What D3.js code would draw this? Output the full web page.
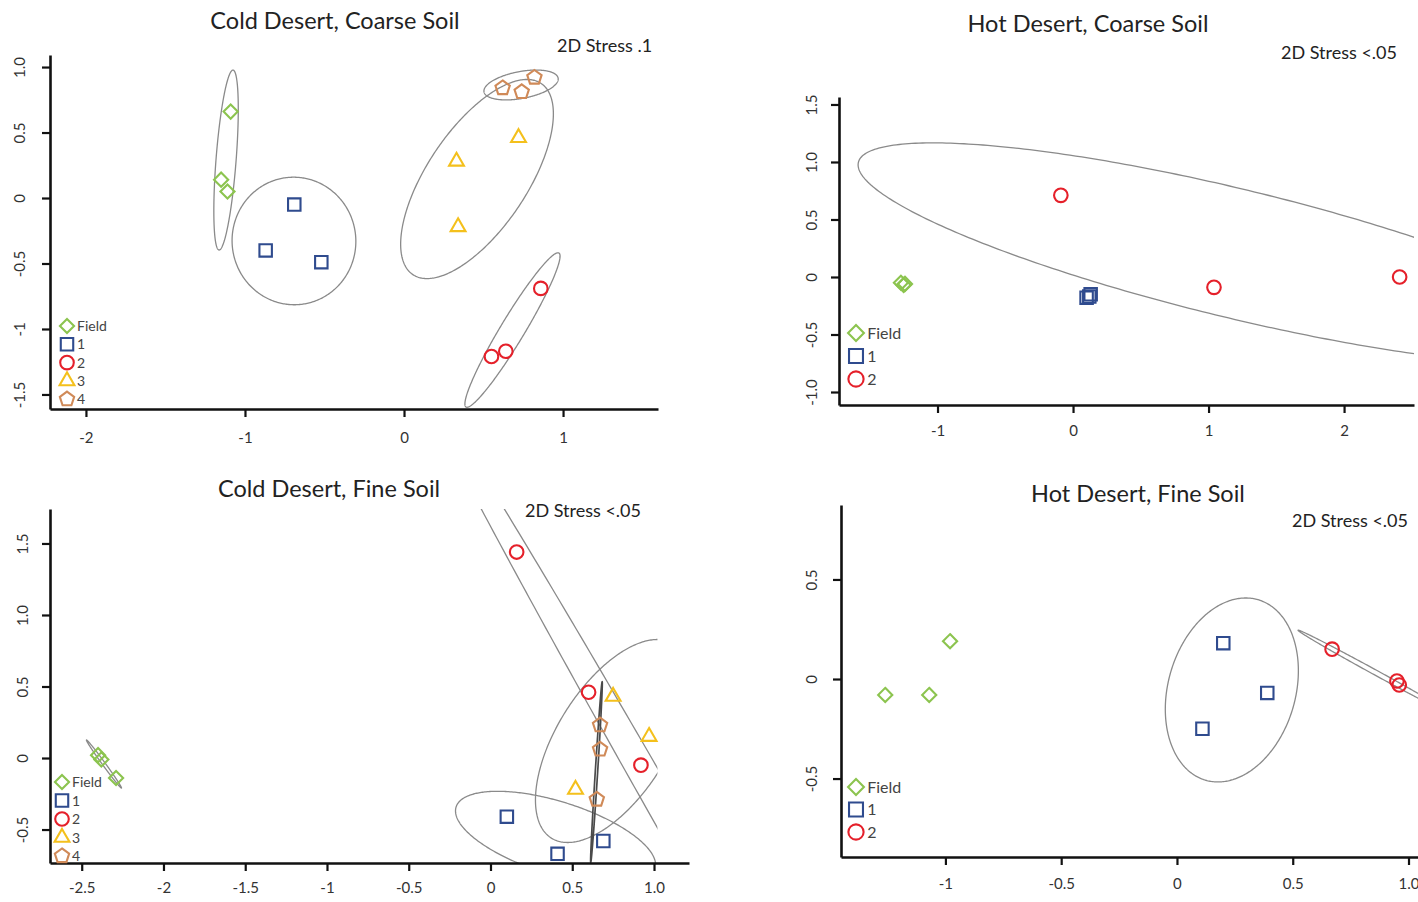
<!DOCTYPE html>
<html>
<head>
<meta charset="utf-8">
<script src="https://cdn.jsdelivr.net/npm/d3@7"></script>
<style>
  body { margin: 0; background: #fff; }
  svg { display: block; }
</style>
</head>
<body>
<svg id="chart" width="1418" height="902"></svg>
<script>
// ---------- groups ----------
const groupNames  = ["Field", "1", "2", "3", "4"];
const groupShapes = ["diamond", "square", "circle", "triangle", "pentagon"];
const groupColors = ["#8cc44f", "#2f4b8e", "#e5202a", "#f4c01c", "#d08a58"];

// ---------- NMDS coordinates (x, y) per group ----------
// Cold desert, coarse soil
const coldCoarseField = [[-1.09, 0.66], [-1.15, 0.14], [-1.11, 0.05]];
const coldCoarse1     = [[-0.69, -0.05], [-0.87, -0.40], [-0.52, -0.49]];
const coldCoarse2     = [[0.86, -0.69], [0.64, -1.17], [0.55, -1.21]];
const coldCoarse3     = [[0.33, 0.28], [0.72, 0.46], [0.34, -0.22]];
const coldCoarse4     = [[0.62, 0.84], [0.74, 0.81], [0.82, 0.92]];
// Hot desert, coarse soil
const hotCoarseField  = [[-1.27, -0.05], [-1.25, -0.07], [-1.24, -0.06]];
const hotCoarse1      = [[0.10, -0.18], [0.13, -0.15], [0.12, -0.17]];
const hotCoarse2      = [[-0.09, 0.71], [1.04, -0.09], [2.41, 0.00]];
// Cold desert, fine soil
const coldFineField   = [[-2.40, 0.02], [-2.38, -0.01], [-2.29, -0.14]];
const coldFine1       = [[0.10, -0.41], [0.41, -0.67], [0.69, -0.58]];
const coldFine2       = [[0.16, 1.44], [0.60, 0.46], [0.92, -0.05]];
const coldFine3       = [[0.75, 0.43], [0.97, 0.15], [0.52, -0.22]];
const coldFine4       = [[0.67, 0.23], [0.67, 0.06], [0.65, -0.29]];
// Hot desert, fine soil
const hotFineField    = [[-1.26, -0.08], [-1.07, -0.08], [-0.98, 0.19]];
const hotFine1        = [[0.20, 0.18], [0.39, -0.07], [0.11, -0.25]];
const hotFine2        = [[0.67, 0.15], [0.95, -0.01], [0.96, -0.03]];

// ---------- group ellipses: [cx, cy, ax, ay, bx, by] (centre + two conjugate half-axes) ----------
const coldCoarseEllipses = [
  [-1.119, 0.290, 0.044, 0.687, 0.063, -0.006],
  [-0.692, -0.328, -0.063, 0.481, 0.384, 0.076],
  [0.682, -1.008, 0.292, 0.588, 0.065, -0.047],
  [0.459, 0.145, 0.403, 0.730, 0.261, -0.212],
  [0.736, 0.863, 0.233, 0.053, 0.016, -0.101]
];
const hotCoarseEllipses = [
  [1.196, 0.205, -2.782, 0.770, 0.0, -0.575]
];
const coldFineEllipses = [
  [-2.364, -0.042, 0.107, -0.168, 0.0074, 0.0062],
  [0.398, -0.559, -0.612, 0.189, 0.0, -0.266],
  [1.284, -0.804, -1.707, 3.418, 0.0796, 0.052],
  [0.746, 0.119, -0.471, -0.413, 0.0, 0.577],
  [0.648, -0.098, 0.0349, 0.631, 0.0073, -0.0005]
];
const hotFineEllipses = [
  [0.237, -0.055, 0.060, 0.462, 0.281, 0.0],
  [0.855, 0.034, -0.332, 0.211, 0.0052, 0.011]
];

// ---------- axis ticks ----------
const coldCoarseXTicks = [-2, -1, 0, 1];
const coldCoarseXLabels = ["-2", "-1", "0", "1"];
const coldCoarseYTicks = [1, 0.5, 0, -0.5, -1, -1.5];
const coldCoarseYLabels = ["1.0", "0.5", "0", "-0.5", "-1", "-1.5"];

const hotCoarseXTicks = [-1, 0, 1, 2];
const hotCoarseXLabels = ["-1", "0", "1", "2"];
const hotCoarseYTicks = [1.5, 1, 0.5, 0, -0.5, -1];
const hotCoarseYLabels = ["1.5", "1.0", "0.5", "0", "-0.5", "-1.0"];

const coldFineXTicks = [-2.5, -2, -1.5, -1, -0.5, 0, 0.5, 1];
const coldFineXLabels = ["-2.5", "-2", "-1.5", "-1", "-0.5", "0", "0.5", "1.0"];
const coldFineYTicks = [1.5, 1, 0.5, 0, -0.5];
const coldFineYLabels = ["1.5", "1.0", "0.5", "0", "-0.5"];

const hotFineXTicks = [-1, -0.5, 0, 0.5, 1];
const hotFineXLabels = ["-1", "-0.5", "0", "0.5", "1.0"];
const hotFineYTicks = [0.5, 0, -0.5];
const hotFineYLabels = ["0.5", "0", "-0.5"];

// ---------- panel layout ----------
const panels = [
  {
    title: "Cold Desert, Coarse Soil", stress: "2D Stress .1",
    box: { left: 50, right: 658, top: 55, bottom: 409 },
    xDomain: [-2.226, 1.597], yDomain: [-1.611, 1.092],
    xTicks: coldCoarseXTicks, xLabels: coldCoarseXLabels,
    yTicks: coldCoarseYTicks, yLabels: coldCoarseYLabels,
    series: [coldCoarseField, coldCoarse1, coldCoarse2, coldCoarse3, coldCoarse4],
    ellipses: coldCoarseEllipses, ellipseStroke: ["#8a8a8a", "#8a8a8a", "#8a8a8a", "#8a8a8a", "#8a8a8a"],
    clipXMax: null,
    titlePos: [335, 29], stressPos: [557, 52],
    legend: { x: 67, y: 326, step: 18.3, font: 14, scale: 1 },
    yLabelOffset: 30, xLabelOffset: 34
  },
  {
    title: "Hot Desert, Coarse Soil", stress: "2D Stress <.05",
    box: { left: 839, right: 1414, top: 97, bottom: 405 },
    xDomain: [-1.727, 2.516], yDomain: [-1.113, 1.565],
    xTicks: hotCoarseXTicks, xLabels: hotCoarseXLabels,
    yTicks: hotCoarseYTicks, yLabels: hotCoarseYLabels,
    series: [hotCoarseField, hotCoarse1, hotCoarse2],
    ellipses: hotCoarseEllipses, ellipseStroke: ["#8a8a8a"],
    clipXMax: null,
    titlePos: [1088, 32], stressPos: [1281, 59],
    legend: { x: 856, y: 333, step: 23, font: 16, scale: 1.12 },
    yLabelOffset: 27, xLabelOffset: 31
  },
  {
    title: "Cold Desert, Fine Soil", stress: "2D Stress <.05",
    box: { left: 50, right: 689, top: 509, bottom: 863 },
    xDomain: [-2.694, 1.214], yDomain: [-0.734, 1.741],
    xTicks: coldFineXTicks, xLabels: coldFineXLabels,
    yTicks: coldFineYTicks, yLabels: coldFineYLabels,
    series: [coldFineField, coldFine1, coldFine2, coldFine3, coldFine4],
    ellipses: coldFineEllipses, ellipseStroke: ["#8a8a8a", "#8a8a8a", "#8a8a8a", "#8a8a8a", "#4a4a4a"],
    clipXMax: 1.021,
    titlePos: [329, 497], stressPos: [525, 517],
    legend: { x: 62, y: 782, step: 18.5, font: 14, scale: 1 },
    yLabelOffset: 27, xLabelOffset: 30
  },
  {
    title: "Hot Desert, Fine Soil", stress: "2D Stress <.05",
    box: { left: 841, right: 1418, top: 505, bottom: 857 },
    xDomain: [-1.451, 1.041], yDomain: [-0.894, 0.874],
    xTicks: hotFineXTicks, xLabels: hotFineXLabels,
    yTicks: hotFineYTicks, yLabels: hotFineYLabels,
    series: [hotFineField, hotFine1, hotFine2],
    ellipses: hotFineEllipses, ellipseStroke: ["#8a8a8a", "#8a8a8a"],
    clipXMax: null,
    titlePos: [1138, 502], stressPos: [1292, 527],
    legend: { x: 856, y: 787, step: 22.5, font: 16, scale: 1.12 },
    yLabelOffset: 29, xLabelOffset: 32
  }
];

const FONT = "Lato, 'Open Sans', sans-serif";

// ---------- marker symbols ----------
const symbolTypes = {
  square: d3.symbolSquare,
  circle: d3.symbolCircle,
  triangle: d3.symbolTriangle,
  diamond: {
    draw(ctx, size) {
      const r = Math.sqrt(size / 2);
      ctx.moveTo(0, -r); ctx.lineTo(r, 0); ctx.lineTo(0, r); ctx.lineTo(-r, 0); ctx.closePath();
    }
  },
  pentagon: {
    draw(ctx, size) {
      const r = Math.sqrt(size / 2.378);
      for (let i = 0; i < 5; i++) {
        const a = -Math.PI / 2 + i * 2 * Math.PI / 5;
        const px = r * Math.cos(a), py = r * Math.sin(a);
        if (i === 0) ctx.moveTo(px, py); else ctx.lineTo(px, py);
      }
      ctx.closePath();
    }
  }
};
const symbolSizes = { square: 155, circle: 145, triangle: 95, diamond: 100, pentagon: 135 };
function markerPath(shape, k = 1) {
  return d3.symbol().type(symbolTypes[shape]).size(symbolSizes[shape] * k * k)();
}

const svg = d3.select("#chart");
svg.append("rect").attr("width", 1418).attr("height", 902).attr("fill", "#fff");

panels.forEach((p, pi) => {
  const x = d3.scaleLinear().domain(p.xDomain).range([p.box.left, p.box.right]);
  const y = d3.scaleLinear().domain(p.yDomain).range([p.box.bottom, p.box.top]);
  const g = svg.append("g");

  // clip region for ellipses
  const clipId = "clip" + pi;
  const xMaxPx = p.clipXMax == null ? p.box.right : x(p.clipXMax);
  svg.append("clipPath").attr("id", clipId)
    .append("rect")
    .attr("x", p.box.left).attr("y", p.box.top)
    .attr("width", xMaxPx - p.box.left).attr("height", p.box.bottom - p.box.top);

  // ellipses
  const line = d3.line().curve(d3.curveLinearClosed);
  const eg = g.append("g").attr("clip-path", `url(#${clipId})`);
  p.ellipses.forEach((e, ei) => {
    const [cx, cy, ax, ay, bx, by] = e;
    const pts = d3.range(0, 360, 1).map(deg => {
      const t = deg * Math.PI / 180;
      return [x(cx + ax * Math.cos(t) + bx * Math.sin(t)), y(cy + ay * Math.cos(t) + by * Math.sin(t))];
    });
    eg.append("path").attr("d", line(pts))
      .attr("fill", "none")
      .attr("stroke", p.ellipseStroke[ei])
      .attr("stroke-width", p.ellipseStroke[ei] === "#4a4a4a" ? 1.7 : 1.3);
  });

  // axes
  const xAxis = d3.axisBottom(x).tickValues(p.xTicks)
    .tickFormat((d, i) => p.xLabels[i]).tickSize(8).tickSizeOuter(0);
  const yAxis = d3.axisLeft(y).tickValues(p.yTicks)
    .tickFormat((d, i) => p.yLabels[i]).tickSize(8).tickSizeOuter(0);

  const gx = g.append("g").attr("transform", `translate(0,${p.box.bottom})`).call(xAxis);
  const gy = g.append("g").attr("transform", `translate(${p.box.left},0)`).call(yAxis);
  [gx, gy].forEach(a => {
    a.select(".domain").attr("stroke", "#111").attr("stroke-width", 2.6);
    a.selectAll(".tick line").attr("stroke", "#111").attr("stroke-width", 2.2);
    a.selectAll(".tick text").attr("fill", "#333")
      .style("font-family", FONT).style("font-size", "15px");
  });
  gx.selectAll(".tick text").attr("y", p.xLabelOffset).attr("dy", "0");
  gy.selectAll(".tick text")
    .attr("transform", "rotate(-90)")
    .attr("x", 0).attr("y", -p.yLabelOffset).attr("dy", "0.35em")
    .attr("text-anchor", "middle");

  // data points
  p.series.forEach((pts, gi) => {
    g.append("g").selectAll("path").data(pts).join("path")
      .attr("d", markerPath(groupShapes[gi]))
      .attr("transform", d => `translate(${x(d[0])},${y(d[1])})`)
      .attr("fill", "none")
      .attr("stroke", groupColors[gi])
      .attr("stroke-width", 2.1);
  });

  // legend
  const lg = g.append("g");
  p.series.forEach((pts, gi) => {
    const ly = p.legend.y + gi * p.legend.step;
    lg.append("path")
      .attr("d", markerPath(groupShapes[gi], p.legend.scale))
      .attr("transform", `translate(${p.legend.x},${ly})`)
      .attr("fill", "none").attr("stroke", groupColors[gi]).attr("stroke-width", 2.1);
    lg.append("text")
      .attr("x", p.legend.x + 10 * p.legend.scale).attr("y", ly + p.legend.font * 0.36)
      .attr("fill", "#444")
      .style("font-family", FONT).style("font-size", p.legend.font + "px")
      .text(groupNames[gi]);
  });

  // title and stress annotation
  g.append("text")
    .attr("x", p.titlePos[0]).attr("y", p.titlePos[1])
    .attr("text-anchor", "middle").attr("fill", "#222")
    .style("font-family", FONT).style("font-size", "23.5px")
    .text(p.title);
  g.append("text")
    .attr("x", p.stressPos[0]).attr("y", p.stressPos[1])
    .attr("fill", "#222")
    .style("font-family", FONT).style("font-size", "18px")
    .text(p.stress);
});
</script>
</body>
</html>
